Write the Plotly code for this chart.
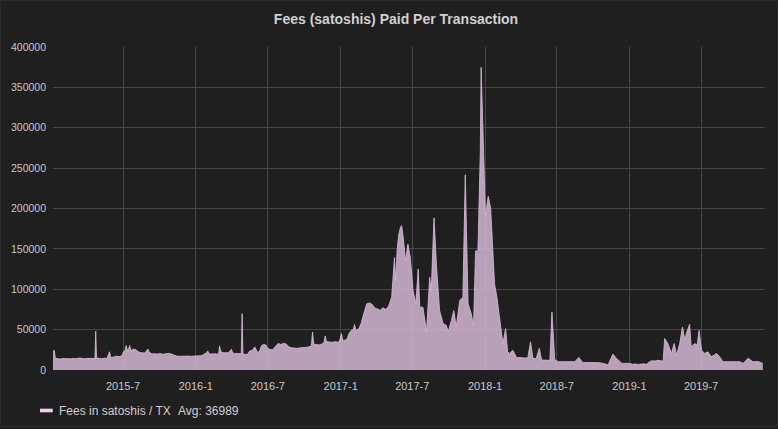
import plotly.graph_objects as go

# values (satoshis per transaction)
dates = [
    "2015-01-05", "2015-01-08", "2015-01-11", "2015-01-15", "2015-01-22", "2015-01-29",
    "2015-02-05", "2015-02-12", "2015-02-19", "2015-02-26", "2015-03-05", "2015-03-12",
    "2015-03-19", "2015-03-26", "2015-04-02", "2015-04-09", "2015-04-16", "2015-04-21",
    "2015-04-23", "2015-04-25", "2015-04-30", "2015-05-07", "2015-05-14", "2015-05-21",
    "2015-05-28", "2015-05-31", "2015-06-07", "2015-06-14", "2015-06-21", "2015-06-28",
    "2015-07-02", "2015-07-06", "2015-07-09", "2015-07-13", "2015-07-18", "2015-07-21",
    "2015-07-26", "2015-08-01", "2015-08-05", "2015-08-11", "2015-08-18", "2015-08-25",
    "2015-09-02", "2015-09-05", "2015-09-12", "2015-09-19", "2015-09-26", "2015-10-03",
    "2015-10-10", "2015-10-17", "2015-10-24", "2015-10-31", "2015-11-07", "2015-11-14",
    "2015-11-21", "2015-11-28", "2015-12-05", "2015-12-12", "2015-12-19", "2015-12-26",
    "2016-01-02", "2016-01-09", "2016-01-16", "2016-01-23", "2016-01-28", "2016-01-31",
    "2016-02-03", "2016-02-10", "2016-02-17", "2016-02-24", "2016-02-28", "2016-03-01",
    "2016-03-04", "2016-03-10", "2016-03-17", "2016-03-24", "2016-03-31", "2016-04-03",
    "2016-04-08", "2016-04-15", "2016-04-21", "2016-04-25", "2016-04-27", "2016-04-29",
    "2016-05-04", "2016-05-11", "2016-05-16", "2016-05-23", "2016-05-29", "2016-06-04",
    "2016-06-09", "2016-06-15", "2016-06-20", "2016-06-26", "2016-07-01", "2016-07-07",
    "2016-07-13", "2016-07-20", "2016-07-27", "2016-08-03", "2016-08-10", "2016-08-17",
    "2016-08-24", "2016-08-31", "2016-09-07", "2016-09-14", "2016-09-21", "2016-09-28",
    "2016-10-05", "2016-10-12", "2016-10-19", "2016-10-22", "2016-10-25", "2016-10-31",
    "2016-11-07", "2016-11-14", "2016-11-20", "2016-11-23", "2016-11-26", "2016-12-03",
    "2016-12-10", "2016-12-17", "2016-12-24", "2016-12-29", "2017-01-03", "2017-01-06",
    "2017-01-12", "2017-01-17", "2017-01-22", "2017-01-28", "2017-02-02", "2017-02-05",
    "2017-02-09", "2017-02-16", "2017-02-22", "2017-02-26", "2017-03-03", "2017-03-08",
    "2017-03-15", "2017-03-22", "2017-03-28", "2017-04-04", "2017-04-11", "2017-04-18",
    "2017-04-25", "2017-05-02", "2017-05-10", "2017-05-17", "2017-05-20", "2017-05-24",
    "2017-05-28", "2017-06-01", "2017-06-04", "2017-06-08", "2017-06-14", "2017-06-20",
    "2017-06-26", "2017-07-03", "2017-07-10", "2017-07-16", "2017-07-20", "2017-07-28",
    "2017-08-06", "2017-08-14", "2017-08-18", "2017-08-25", "2017-08-31", "2017-09-08",
    "2017-09-17", "2017-09-25", "2017-09-30", "2017-10-08", "2017-10-14", "2017-10-20",
    "2017-10-29", "2017-11-06", "2017-11-12", "2017-11-19", "2017-11-27", "2017-12-03",
    "2017-12-08", "2017-12-14", "2017-12-20", "2017-12-22", "2017-12-26", "2018-01-02",
    "2018-01-09", "2018-01-15", "2018-01-19", "2018-01-25", "2018-01-31", "2018-02-07",
    "2018-02-15", "2018-02-22", "2018-02-27", "2018-03-04", "2018-03-12", "2018-03-22",
    "2018-04-01", "2018-04-10", "2018-04-19", "2018-04-26", "2018-05-02", "2018-05-10",
    "2018-05-18", "2018-05-24", "2018-06-04", "2018-06-14", "2018-06-19", "2018-06-26",
    "2018-07-05", "2018-07-19", "2018-08-02", "2018-08-16", "2018-08-26", "2018-09-05",
    "2018-09-19", "2018-10-03", "2018-10-17", "2018-11-01", "2018-11-08", "2018-11-20",
    "2018-11-29", "2018-12-13", "2018-12-25", "2019-01-02", "2019-01-09", "2019-01-16",
    "2019-01-23", "2019-01-30", "2019-02-06", "2019-02-13", "2019-02-20", "2019-02-27",
    "2019-03-06", "2019-03-13", "2019-03-20", "2019-03-27", "2019-03-31", "2019-04-08",
    "2019-04-17", "2019-04-24", "2019-04-30", "2019-05-08", "2019-05-15", "2019-05-21",
    "2019-05-26", "2019-06-02", "2019-06-06", "2019-06-15", "2019-06-21", "2019-06-26",
    "2019-07-02", "2019-07-10", "2019-07-18", "2019-07-27", "2019-08-09", "2019-08-17",
    "2019-08-25", "2019-09-08", "2019-09-22", "2019-10-07", "2019-10-15", "2019-10-28",
    "2019-11-09", "2019-11-22", "2019-12-04",
]
fees = [
    22000, 24600, 14500, 14000, 13500, 14200,
    14000, 14600, 13800, 14300, 14000, 14800,
    14100, 13900, 14400, 14000, 14200, 14500,
    48000, 15000, 14200, 13900, 14600, 14300,
    22500, 15500, 16000, 17200, 16500, 17500,
    22500, 24000, 30300, 23000, 30300, 23500,
    26000, 25400, 24000, 22000, 21300, 21000,
    26000, 22000, 20000, 19500, 19800, 20300,
    19500, 20000, 20500, 19800, 18500, 17200,
    17000, 17400, 17100, 17300, 17000, 17200,
    17400, 17600, 17800, 20000, 21000, 23700,
    20000, 19700, 20200, 19500, 21000, 29900,
    23000, 21300, 21000, 21500, 25800, 21000,
    20500, 20000, 20300, 20500, 69700, 20000,
    19300, 19500, 23500, 24600, 28600, 22500,
    22000, 30000, 31600, 31000, 26500, 25400,
    25000, 29000, 32800, 31500, 33000, 32000,
    28500, 27400, 27000, 26800, 27500, 27400,
    28000, 28500, 30000, 47100, 32000, 31600,
    31000, 32000, 34000, 42200, 35000, 34800,
    34200, 35000, 34500, 35500, 45100, 37000,
    36900, 38000, 45000, 49200, 50000, 56200,
    49000, 51000, 58000, 65500, 75000, 82000,
    83000, 81000, 77000, 75800, 74000, 77000,
    75000, 79000, 90100, 139300, 110600, 150000,
    168000, 176100, 179000, 165000, 135200, 155700,
    139300, 98300, 82000, 125000, 77800, 77800,
    47100, 114700, 98300, 188400, 131100, 73700,
    57400, 55300, 47100, 61400, 73700, 53200,
    86000, 90100, 241700, 82000, 69700, 55300,
    147500, 147500, 270400, 374800, 311300, 190500,
    215100, 200700, 163800, 106500, 90000, 60000,
    32800, 51200, 22500, 20500, 24600, 15100,
    15500, 14800, 15100, 34800, 14400, 14000,
    26700, 12300, 12500, 12000, 71700, 13100,
    10200, 10500, 10000, 10300, 15600, 9000,
    9200, 8800, 9100, 7500, 6100, 19700,
    14400, 8200, 8000, 8200, 7000, 7500,
    6800, 7200, 7600, 7000, 10000, 11500,
    11000, 12000, 11500, 11000, 39000, 32800,
    20500, 32800, 18400, 32800, 53200, 36900,
    47100, 56500, 28600, 32800, 30700, 49200,
    24600, 20500, 22500, 16400, 20500, 16400,
    10200, 10500, 10000, 10200, 8200, 14400,
    10200, 10500, 8200,
]

series_name = "Fees in satoshis / TX"
avg_label = "Avg: 36989"

BG = "#1f1f1f"
GRID = "#474747"
TEXT = "#c8c8c8"
FILL = "rgba(213,183,213,0.85)"
FONT = "Liberation Sans, Arial, sans-serif"

fig = go.Figure()
fig.add_trace(go.Scatter(
    x=dates,
    y=fees,
    mode="lines",
    fill="tozeroy",
    fillcolor=FILL,
    line=dict(color=FILL, width=1),
    name=series_name,
))

fig.update_layout(
    width=778,
    height=429,
    margin=dict(l=53, r=14, t=47, b=59),
    paper_bgcolor=BG,
    plot_bgcolor=BG,
    showlegend=False,
    font=dict(family=FONT, color=TEXT),
    title=dict(
        text="Fees (satoshis) Paid Per Transaction",
        x=0.509, xanchor="center",
        y=1 - 19 / 429, yanchor="middle",
        font=dict(size=14, color="#d0d0d0", weight="bold"),
    ),
    xaxis=dict(
        type="date",
        range=["2015-01-05", "2019-12-07"],
        tick0="2015-07-01",
        dtick="M6",
        tickformat="%Y-%-m",
        showgrid=True,
        gridcolor=GRID,
        zeroline=False,
        showline=False,
        ticks="",
        tickfont=dict(size=11, color=TEXT),
        ticklabelstandoff=8,
    ),
    yaxis=dict(
        range=[0, 400000],
        dtick=50000,
        tickformat="d",
        showgrid=True,
        gridcolor=GRID,
        zeroline=False,
        showline=False,
        ticks="",
        tickfont=dict(size=10.5, color=TEXT),
        ticklabelstandoff=6,
    ),
)

# panel border
fig.add_shape(type="rect", xref="paper", yref="paper",
              x0=-0.0738, x1=1.019, y0=-0.1734, y1=1.144,
              line=dict(color="#2c2c2c", width=1), layer="below")

# grafana style legend below the plot
fig.add_shape(type="rect", xref="paper", yref="paper",
              x0=-0.0183, x1=-0.0004, y0=-0.131, y1=-0.1198,
              fillcolor="#f5cff3", line=dict(width=0))
fig.add_annotation(text=series_name, xref="paper", yref="paper",
                   x=0.006, y=-0.1254, xanchor="left", yanchor="middle",
                   showarrow=False, font=dict(size=12, color="#d0d0d0"))
fig.add_annotation(text=avg_label, xref="paper", yref="paper",
                   x=0.1726, y=-0.1254, xanchor="left", yanchor="middle",
                   showarrow=False, font=dict(size=12, color="#d0d0d0"))

# page has a default 8px body margin; drop it so the figure fills the window
fig.write_html("out.html", config={"displayModeBar": False},
               post_script="document.body.style.margin='0';")
